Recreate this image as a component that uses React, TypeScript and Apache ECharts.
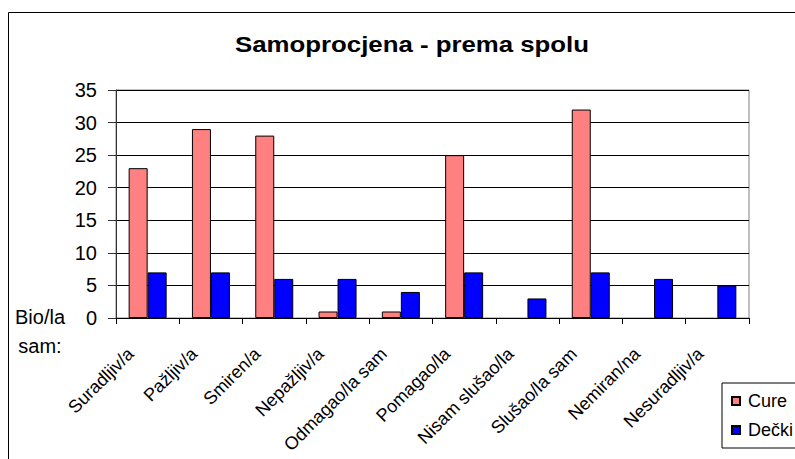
import React, { useEffect, useRef } from "react";
import * as echarts from "echarts";

const categories = [
  "Suradljiv/a",
  "Pažljiv/a",
  "Smiren/a",
  "Nepažljiv/a",
  "Odmagao/la sam",
  "Pomagao/la",
  "Nisam slušao/la",
  "Slušao/la sam",
  "Nemiran/na",
  "Nesuradljiv/a",
];
const cure = [23, 29, 28, 1, 1, 25, 0, 32, 0, 0];
const decki = [7, 7, 6, 6, 4, 7, 3, 7, 6, 5];
const seriesNames = ["Cure", "Dečki"];
const titleText = "Samoprocjena - prema spolu";
const axisCaption = "Bio/la\nsam:";

const toData = (arr: number[]) =>
  arr.map((v) => (v === 0 ? { value: v, itemStyle: { borderWidth: 0 } } : v));

export default function App() {
  const ref = useRef<HTMLDivElement>(null);
  useEffect(() => {
    if (!ref.current) return;
    const chart = echarts.init(ref.current, null, { renderer: "svg" });
    const font = "'Liberation Sans', Arial, sans-serif";
    chart.setOption({
      animation: false,
      backgroundColor: "#ffffff",
      textStyle: { fontFamily: font, color: "#000" },
      graphic: [
        {
          type: "rect",
          shape: { x: 8.5, y: 12.5, width: 820, height: 480 },
          style: { fill: "none", stroke: "#000", lineWidth: 1 },
          silent: true,
        },
        {
          type: "text",
          x: 412,
          y: 45,
          scaleX: 1.2,
          style: {
            text: titleText,
            fontFamily: font,
            fontSize: 21.5,
            fontWeight: "bold",
            fill: "#000",
            align: "center",
            verticalAlign: "middle",
          },
        },
        {
          type: "text",
          x: 40,
          y: 302,
          style: {
            text: axisCaption,
            fontFamily: font,
            fontSize: 20,
            lineHeight: 29,
            fill: "#000",
            align: "center",
            verticalAlign: "top",
          },
        },
      ],
      grid: {
        left: 116,
        right: 46,
        top: 90,
        bottom: 141,
        show: true,
        borderColor: "#808080",
        borderWidth: 1,
      },
      legend: {
        orient: "vertical",
        left: 722,
        top: 383,
        borderColor: "#000",
        borderWidth: 1,
        padding: [9, 20, 9, 9],
        itemWidth: 8,
        itemHeight: 8,
        itemGap: 11,
        icon: "rect",
        textStyle: { fontFamily: font, fontSize: 18, color: "#000", padding: [0, 0, 0, 3] },
        data: seriesNames,
      },
      xAxis: {
        type: "category",
        data: categories,
        axisLine: { lineStyle: { color: "#000", width: 1 } },
        axisTick: { show: true, length: 6, lineStyle: { color: "#000" } },
        axisLabel: {
          rotate: 45,
          interval: 0,
          fontFamily: font,
          fontSize: 18,
          color: "#000",
          margin: 16,
          padding: [0, 24, 0, 0],
        },
      },
      yAxis: {
        type: "value",
        min: 0,
        max: 35,
        interval: 5,
        axisLine: { show: true, lineStyle: { color: "#333" } },
        axisTick: { show: true, length: 8, lineStyle: { color: "#333" } },
        axisLabel: { fontFamily: font, fontSize: 20, color: "#000", margin: 19 },
        splitLine: { show: true, lineStyle: { color: "#000", width: 1 } },
      },
      series: [
        {
          name: seriesNames[0],
          type: "bar",
          data: toData(cure),
          barWidth: 19,
          barGap: "0%",
          itemStyle: { color: "#FF8080", borderColor: "#000", borderWidth: 1 },
        },
        {
          name: seriesNames[1],
          type: "bar",
          data: toData(decki),
          barWidth: 19,
          barGap: "0%",
          itemStyle: { color: "#0000FF", borderColor: "#000", borderWidth: 1 },
        },
      ],
    });
    return () => chart.dispose();
  }, []);
  return (
    <div
      ref={ref}
      style={{ position: "fixed", left: 0, top: 0, width: 795, height: 459 }}
    />
  );
}
